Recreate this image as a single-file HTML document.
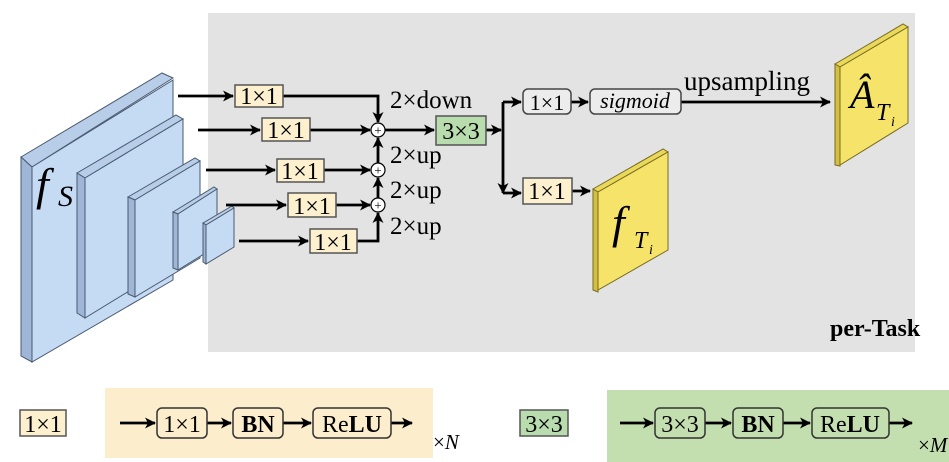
<!DOCTYPE html>
<html><head><style>body{margin:0;background:#fff}svg{display:block}</style></head><body>
<svg width="949" height="462" viewBox="0 0 949 462" xmlns="http://www.w3.org/2000/svg" font-family="'Liberation Serif', serif">
<defs><marker id="a" markerWidth="11" markerHeight="11" refX="10" refY="5.5" orient="auto" markerUnits="userSpaceOnUse"><path d="M0,0 L11,5.5 L0,11 L3,5.5 z" fill="#000"/></marker></defs>
<rect x="208" y="13" width="707" height="339" fill="#e3e3e3"/>
<g stroke="#4a5a70" stroke-width="1">
<polygon points="21,157 162,73 173,78 32,167" fill="#b7cde8"/><polygon points="21,157 32,167 32,362 21,356" fill="#9fb6d6"/><polygon points="32,167 173,80 173,280 32,362" fill="#c5daf3"/>
<polygon points="77,173 176,115 183,119 85,178" fill="#b7cde8"/><polygon points="77,173 85,178 85,318 77,313" fill="#9fb6d6"/><polygon points="85,178 183,119 183,258 85,318" fill="#c5daf3"/>
<polygon points="128,197 195,158 200,161 135,200" fill="#b7cde8"/><polygon points="128,197 135,200 135,297 128,294" fill="#9fb6d6"/><polygon points="135,200 200,161 200,258 135,297" fill="#c5daf3"/>
<polygon points="173,212 214,187 217,189 178,214" fill="#b7cde8"/><polygon points="173,212 178,214 178,270 173,268" fill="#9fb6d6"/><polygon points="178,214 217,189 217,246 178,270" fill="#c5daf3"/>
<polygon points="203,223 232,206 234,208 206,225" fill="#b7cde8"/><polygon points="203,223 206,225 206,264 203,262" fill="#9fb6d6"/><polygon points="206,225 234,208 234,247 206,264" fill="#c5daf3"/>
</g>
<text x="36" y="200" font-size="46" font-style="italic">f</text><text x="58" y="206" font-size="30" font-style="italic">S</text>
<g stroke="#000" stroke-width="2.8" fill="none" marker-end="url(#a)">
<path d="M178,96 H233"/><path d="M283,96 H378 V122"/>
<path d="M198,130 H260"/><path d="M310,130 H370"/>
<path d="M206,170 H275"/><path d="M324,170 H370"/>
<path d="M226,205 H286"/><path d="M336,205 H370"/>
<path d="M239,241 H308"/><path d="M357,241 H378 V213"/>
<path d="M378,198 V178"/><path d="M378,163 V138"/>
<path d="M385,130 H434"/><path d="M486,130 H501"/>
<path d="M503,102 V193"/><path d="M503,102 H521"/><path d="M503,193 H521"/>
<path d="M571,102 H588"/><path d="M681,102 H830"/><path d="M572,191 H590"/>
</g>
<g fill="#fff" stroke="#000" stroke-width="1.2"><circle cx="378" cy="130" r="7"/><circle cx="378" cy="170" r="7"/><circle cx="378" cy="205" r="7"/></g>
<g font-size="13" text-anchor="middle"><text x="378" y="134.5">+</text><text x="378" y="174.5">+</text><text x="378" y="209.5">+</text></g>
<g fill="#fdf0cf" stroke="#555" stroke-width="1.5">
<rect x="235" y="85" width="48" height="22"/><rect x="262" y="118" width="48" height="23"/><rect x="277" y="159" width="47" height="23"/><rect x="288" y="193" width="48" height="24"/><rect x="310" y="229" width="47" height="24"/>
<rect x="523" y="178" width="49" height="26"/><rect x="20" y="410" width="46" height="26"/></g>
<g fill="#b9dcae" stroke="#555" stroke-width="1.5"><rect x="436" y="116" width="50" height="29"/><rect x="520" y="410" width="48" height="26"/></g>
<g font-size="24" text-anchor="middle">
<text x="259" y="104">1×1</text><text x="286" y="138">1×1</text><text x="300" y="179">1×1</text><text x="312" y="214">1×1</text><text x="333" y="250">1×1</text>
<text x="461" y="139">3×3</text><text x="547" y="199">1×1</text><text x="43" y="432">1×1</text><text x="544" y="432">3×3</text></g>
<g font-size="25"><text x="390" y="108">2×down</text><text x="390" y="163">2×up</text><text x="390" y="198">2×up</text><text x="390" y="234">2×up</text>
<text x="684" y="90" font-size="27">upsampling</text></g>
<rect x="523" y="89" width="48" height="25" rx="5" fill="#ececec" stroke="#444" stroke-width="1.5"/>
<text x="547" y="110" font-size="22" text-anchor="middle">1×1</text>
<rect x="590" y="89" width="91" height="25" rx="5" fill="#ececec" stroke="#444" stroke-width="1.5"/>
<text x="635" y="108" font-size="22" font-style="italic" text-anchor="middle">sigmoid</text>
<g stroke="#776a20" stroke-width="1">
<polygon points="593,189 663,149 668,152 598,192" fill="#ead85a"/><polygon points="593,189 598,192 598,292 593,290" fill="#d4bf40"/><polygon points="598,192 668,152 668,250 598,290" fill="#f6e46a"/>
<polygon points="835,64 903,24 908,27 840,67" fill="#ead85a"/><polygon points="835,64 840,67 840,166 835,165" fill="#d4bf40"/><polygon points="840,67 908,27 908,123 840,165" fill="#f6e46a"/>
</g>
<text x="612" y="238" font-size="46" font-style="italic">f</text><text x="634" y="248" font-size="24" font-style="italic">T</text><text x="649" y="254" font-size="14" font-style="italic">i</text>
<text x="850" y="108" font-size="40" font-style="italic">Â</text><text x="876" y="120" font-size="24" font-style="italic">T</text><text x="891" y="126" font-size="14" font-style="italic">i</text>
<text x="830" y="336" font-size="24" font-weight="bold">per-Task</text>
<rect x="105" y="388" width="328" height="70" fill="#fcedcc"/>
<rect x="607" y="390" width="342" height="72" fill="#c3dfb0"/>
<g stroke="#000" stroke-width="2.8" fill="none" marker-end="url(#a)">
<path d="M120,423 H155"/><path d="M207,423 H231"/><path d="M283,423 H311"/><path d="M391,423 H412"/>
<path d="M620,423 H653"/><path d="M705,423 H731"/><path d="M783,423 H810"/><path d="M889,423 H912"/></g>
<g fill="none" stroke="#333" stroke-width="1.5">
<rect x="157" y="408" width="50" height="30" rx="5"/><rect x="233" y="408" width="50" height="30" rx="5"/><rect x="313" y="408" width="78" height="30" rx="5"/>
<rect x="655" y="408" width="50" height="30" rx="5"/><rect x="733" y="408" width="50" height="30" rx="5"/><rect x="812" y="408" width="77" height="30" rx="5"/></g>
<g font-size="24" text-anchor="middle">
<text x="182" y="432">1×1</text><text x="258" y="432" font-weight="bold">BN</text><text x="352" y="432">Re<tspan font-weight="bold">LU</tspan></text>
<text x="680" y="432">3×3</text><text x="758" y="432" font-weight="bold">BN</text><text x="850" y="432">Re<tspan font-weight="bold">LU</tspan></text></g>
<text x="433" y="449" font-size="21">×<tspan font-style="italic">N</tspan></text>
<text x="918" y="452" font-size="21">×<tspan font-style="italic">M</tspan></text>
</svg>
</body></html>
